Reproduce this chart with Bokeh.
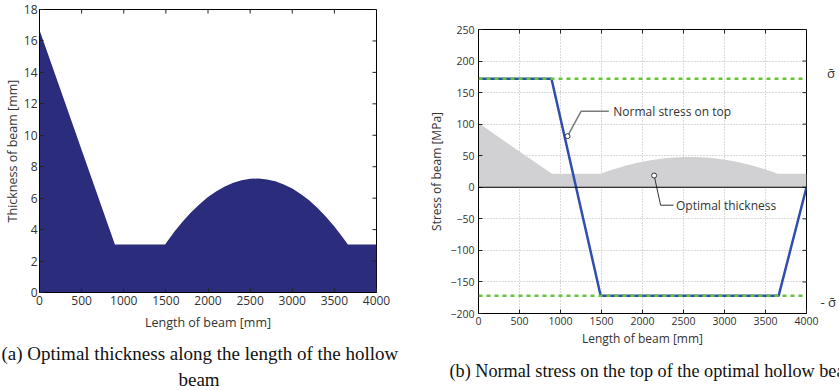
import math
from bokeh.plotting import figure
from bokeh.models import Range1d, FixedTicker, LinearAxis, Span, Title
from bokeh.layouts import row
from bokeh.core.properties import value
from bokeh.embed import file_html
from bokeh.resources import INLINE

# ---------------- data ----------------
# (a) optimal thickness along the beam
length_mm = [0, 895, 1490, 1600, 1700, 1800, 1900, 2000, 2100, 2200, 2300, 2400, 2500, 2600,
             2700, 2800, 2900, 3000, 3100, 3200, 3300, 3400, 3500, 3600, 3660, 4000]
thickness_mm = [16.7, 3.05, 3.05, 3.86, 4.52, 5.11, 5.62, 6.07, 6.44, 6.75, 6.98, 7.14, 7.23, 7.25,
                7.19, 7.07, 6.87, 6.61, 6.27, 5.86, 5.37, 4.82, 4.20, 3.50, 3.05, 3.05]

# (b) normal stress on top of the beam
stress_x = [0, 890, 1490, 3660, 4000]
stress_mpa = [172, 172, -172, -172, 0]
sigma_limit = 172

# (b) grey silhouette of the optimal thickness (scaled)
shade_x = [0, 450, 897, 1490, 1600, 1700, 1800, 1900, 2000, 2100, 2200, 2300, 2400, 2500, 2600,
           2700, 2800, 2900, 3000, 3100, 3200, 3300, 3400, 3500, 3600, 3645, 4000]
shade_y = [102, 61, 21.5, 21.5, 26.5, 30.7, 34.5, 37.8, 40.6, 43.0, 44.9, 46.3, 47.3, 47.9, 48.0,
           47.6, 46.8, 45.5, 43.8, 41.6, 38.9, 35.8, 32.3, 28.3, 23.8, 21.5, 21.5]

x_ticks = [0, 500, 1000, 1500, 2000, 2500, 3000, 3500, 4000]
thick_ticks = [0, 2, 4, 6, 8, 10, 12, 14, 16, 18]
stress_ticks = [-200, -150, -100, -50, 0, 50, 100, 150, 200, 250]

# annotation anchors (data coordinates)
note_top_pt = (1086, 81)
note_top_knee = (1252, 120.5)
note_top_end = (1589, 120.5)
note_top_text = "Normal stress on top"
note_thk_pt = (2142, 18.6)
note_thk_knee = (2221, -28.4)
note_thk_end = (2379, -28.4)
note_thk_text = "Optimal thickness"
sigma_label_pos = [sigma_limit + 9.5, -sigma_limit - 9.5]
sigma_labels = ["\u2002\u03c3\u0304", "- \u03c3\u0304"]

caption_a1 = "(a) Optimal thickness along the length of the hollow"
caption_a2 = "beam"
caption_b = "(b) Normal stress on the top of the optimal hollow beam"

SANS = "Open Sans"
SERIF = "Liberation Serif"
TXT = "#333333"


def style_axis(ax, size, ticks):
    ax.ticker = FixedTicker(ticks=ticks)
    ax.major_tick_in = 4
    ax.major_tick_out = 0
    ax.minor_tick_line_color = None
    ax.axis_line_color = "black"
    ax.major_tick_line_color = "#222222"
    ax.major_label_text_font = SANS
    ax.major_label_text_font_size = size
    ax.major_label_text_color = TXT
    ax.axis_label_text_font = SANS
    ax.axis_label_text_font_style = "normal"
    ax.axis_label_text_color = TXT


def mirror_ticks(p, xt, yt, xmax, ymax):
    # inward tick marks on the right and top edges of the frame
    p.ray(x=[xmax] * len(yt), y=yt, length=4, length_units="screen", angle=math.pi,
          line_color="#222222", line_width=1)
    p.ray(x=xt, y=[ymax] * len(xt), length=4, length_units="screen", angle=-math.pi / 2,
          line_color="#222222", line_width=1)


def caption(p, text, offset, standoff, size="19px"):
    p.add_layout(Title(text=text, align="left", offset=offset, standoff=standoff,
                       text_font=SERIF, text_font_size=size, text_font_style="normal",
                       text_color="#111111"), "below")


# ---------------- (a) ----------------
p1 = figure(width=419, height=390, x_range=Range1d(0, 4000), y_range=Range1d(0, 18),
            output_backend="svg", toolbar_location=None, frame_align=False,
            min_border_left=38, min_border_right=43, min_border_top=9, min_border_bottom=98)
p1.varea(x=length_mm, y1=0, y2=thickness_mm, fill_color="#2b2c7c")
p1.xgrid.visible = False
p1.ygrid.visible = False
p1.outline_line_color = "black"
style_axis(p1.xaxis[0], "12px", x_ticks)
style_axis(p1.yaxis[0], "12px", thick_ticks)
p1.xaxis.axis_label = "Length of beam [mm]"
p1.yaxis.axis_label = "Thickness of beam [mm]"
p1.xaxis.axis_label_text_font_size = "12.5px"
p1.yaxis.axis_label_text_font_size = "12.5px"
p1.xaxis.major_label_standoff = 3
p1.yaxis.major_label_standoff = 2
p1.xaxis.axis_label_standoff = 6
p1.yaxis.axis_label_standoff = 0
mirror_ticks(p1, x_ticks, thick_ticks, 4000, 18)
caption(p1, caption_a1, -38, 14)
caption(p1, caption_a2, 139, -7)

# ---------------- (b) ----------------
p2 = figure(width=420, height=390, x_range=Range1d(0, 4000), y_range=Range1d(-200, 250),
            output_backend="svg", toolbar_location=None, frame_align=False,
            min_border_left=59, min_border_right=24, min_border_top=29, min_border_bottom=77)
p2.outline_line_color = "black"
p2.grid.grid_line_color = "#b5b5b5"
p2.grid.grid_line_dash = "1 2"
p2.grid.grid_line_width = 1
p2.xgrid.ticker = FixedTicker(ticks=x_ticks)
p2.ygrid.ticker = FixedTicker(ticks=stress_ticks)

p2.varea(x=shade_x, y1=0, y2=shade_y, fill_color="#d1d1d3")
p2.add_layout(Span(location=0, dimension="width", line_color="black", line_width=1))
p2.line(stress_x, stress_mpa, line_color="#2e4fae", line_width=2.5)
for s in (sigma_limit, -sigma_limit):
    p2.add_layout(Span(location=s, dimension="width", line_color="#66c33a",
                       line_width=2.5, line_dash="4 4"))

p2.line([note_top_pt[0], note_top_knee[0], note_top_end[0]],
        [note_top_pt[1], note_top_knee[1], note_top_end[1]], line_color="#7a7a7a", line_width=1.5)
p2.line([note_thk_pt[0], note_thk_knee[0], note_thk_end[0]],
        [note_thk_pt[1], note_thk_knee[1], note_thk_end[1]], line_color="#333333", line_width=1)
p2.scatter([note_top_pt[0], note_thk_pt[0]], [note_top_pt[1], note_thk_pt[1]], size=5,
           fill_color="white", line_color="#333333", line_width=1)
p2.text(x=[note_top_end[0] + 55], y=[note_top_end[1]], text=[note_top_text],
        text_font=value(SANS), text_font_size="12px", text_baseline="middle", text_color=TXT)
p2.text(x=[note_thk_end[0] + 30], y=[note_thk_end[1]], text=[note_thk_text],
        text_font=value(SANS), text_font_size="12px", text_baseline="middle", text_color=TXT)

style_axis(p2.xaxis[0], "10.5px", x_ticks)
style_axis(p2.yaxis[0], "10.5px", stress_ticks)
p2.yaxis.major_label_overrides = {t: str(t).replace("-", "\u2212") for t in stress_ticks}
p2.xaxis.axis_label = "Length of beam [mm]"
p2.yaxis.axis_label = "Stress of beam [MPa]"
p2.xaxis.axis_label_text_font_size = "12px"
p2.yaxis.axis_label_text_font_size = "12px"
p2.xaxis.major_label_standoff = 3
p2.yaxis.major_label_standoff = 4
p2.xaxis.axis_label_standoff = 2
p2.yaxis.axis_label_standoff = 2
mirror_ticks(p2, x_ticks, stress_ticks, 4000, 250)

sig_axis = LinearAxis(ticker=FixedTicker(ticks=sigma_label_pos),
                      major_label_overrides=dict(zip(sigma_label_pos, sigma_labels)),
                      axis_line_color=None, major_tick_line_color=None, minor_tick_line_color=None,
                      major_label_standoff=8, major_label_text_font=SANS,
                      major_label_text_font_size="13px", major_label_text_color=TXT)
p2.add_layout(sig_axis, "right")
caption(p2, caption_b, -29, 19, "18.2px")

layout = row(p1, p2)
open("out.html", "w").write(file_html(layout, INLINE))
